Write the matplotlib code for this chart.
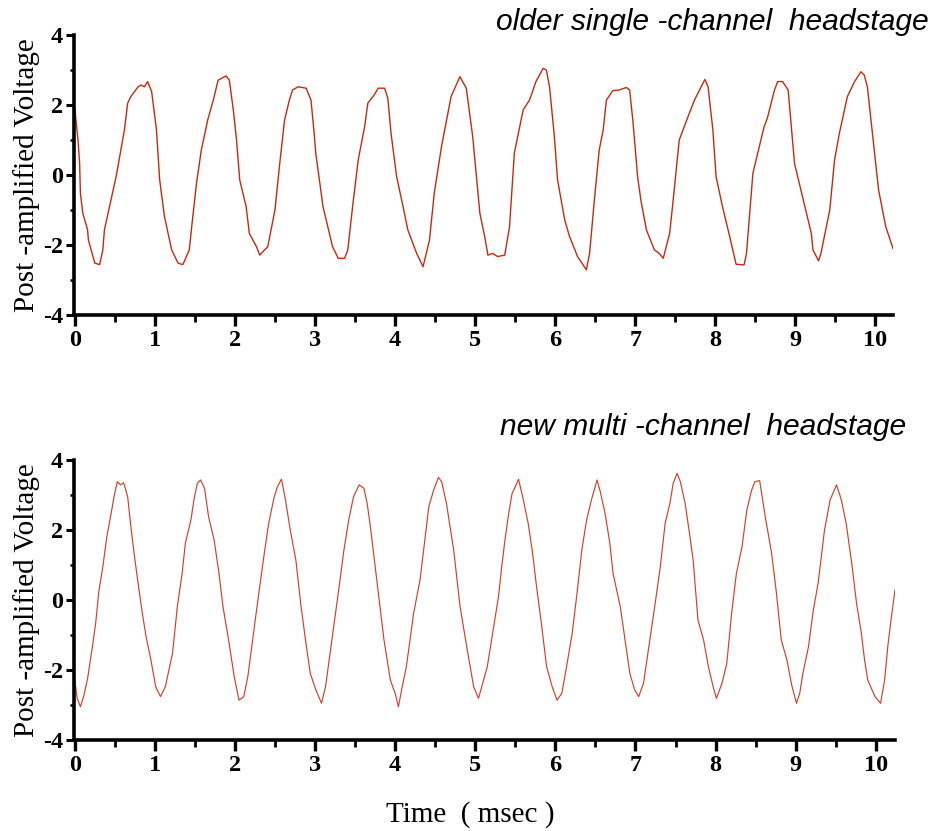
import matplotlib
matplotlib.use("Agg")
import matplotlib.pyplot as plt
from matplotlib.ticker import MultipleLocator

plt.rcParams["axes.unicode_minus"] = False

# ---- data ----
t_old = [0.00, 0.04, 0.06, 0.07, 0.10, 0.16, 0.17, 0.25, 0.31, 0.35, 0.37, 0.52, 0.62, 0.66, 0.70,
         0.79, 0.83, 0.87, 0.91, 0.96, 1.02, 1.06, 1.12, 1.21, 1.29, 1.35, 1.43, 1.46, 1.52, 1.58,
         1.66, 1.73, 1.79, 1.89, 1.93, 1.98, 2.02, 2.06, 2.14, 2.18, 2.27, 2.31, 2.37, 2.41, 2.50,
         2.56, 2.62, 2.68, 2.72, 2.79, 2.89, 2.95, 2.99, 3.01, 3.10, 3.22, 3.29, 3.37, 3.41, 3.47,
         3.54, 3.62, 3.66, 3.74, 3.79, 3.87, 3.91, 3.95, 4.02, 4.10, 4.16, 4.27, 4.35, 4.43, 4.49,
         4.58, 4.70, 4.81, 4.89, 4.97, 5.06, 5.12, 5.16, 5.22, 5.28, 5.37, 5.43, 5.49, 5.60, 5.68,
         5.76, 5.85, 5.89, 5.93, 5.99, 6.03, 6.12, 6.18, 6.28, 6.39, 6.43, 6.49, 6.55, 6.60, 6.64,
         6.72, 6.80, 6.89, 6.93, 6.97, 7.03, 7.07, 7.14, 7.24, 7.30, 7.35, 7.43, 7.47, 7.55, 7.66,
         7.74, 7.87, 7.91, 7.97, 8.01, 8.09, 8.18, 8.26, 8.36, 8.39, 8.47, 8.51, 8.61, 8.65, 8.74,
         8.78, 8.84, 8.91, 8.99, 9.07, 9.20, 9.22, 9.29, 9.32, 9.43, 9.49, 9.55, 9.65, 9.74, 9.82,
         9.86, 9.90, 9.99, 10.04, 10.13, 10.22]
v_old = [1.90, 1.00, 0.34, -0.52, -1.09, -1.57, -1.86, -2.52, -2.56, -2.14, -1.57, 0.00, 1.29, 2.05, 2.24,
         2.52, 2.57, 2.52, 2.67, 2.38, 1.29, -0.14, -1.19, -2.14, -2.52, -2.56, -2.14, -1.48, -0.24, 0.71,
         1.57, 2.14, 2.71, 2.83, 2.71, 1.86, 1.00, -0.14, -0.90, -1.67, -2.05, -2.29, -2.14, -2.05, -1.00,
         0.33, 1.57, 2.14, 2.43, 2.52, 2.48, 2.14, 1.19, 0.62, -0.90, -2.05, -2.38, -2.38, -2.14, -0.90,
         0.43, 1.38, 2.05, 2.29, 2.48, 2.48, 2.19, 1.19, -0.05, -0.90, -1.57, -2.24, -2.62, -1.86, -0.52,
         0.81, 2.24, 2.81, 2.48, 1.10, -1.10, -1.76, -2.29, -2.24, -2.33, -2.29, -1.48, 0.62, 1.86, 2.14,
         2.67, 3.05, 3.00, 2.52, 1.10, -0.14, -1.29, -1.76, -2.33, -2.71, -2.24, -0.71, 0.71, 1.29, 2.14,
         2.41, 2.43, 2.50, 2.43, 1.57, -0.05, -0.71, -1.57, -2.14, -2.24, -2.38, -1.67, -0.81, 1.00, 1.67,
         2.14, 2.73, 2.52, 1.29, -0.05, -0.90, -1.76, -2.55, -2.57, -2.24, 0.05, 0.43, 1.38, 1.62, 2.43,
         2.67, 2.67, 2.43, 0.33, -0.43, -1.67, -2.14, -2.45, -2.24, -1.00, 0.43, 1.19, 2.24, 2.67, 2.95,
         2.86, 2.52, 0.62, -0.43, -1.48, -2.10]

t_new = [0.00, 0.03, 0.07, 0.11, 0.16, 0.22, 0.26, 0.30, 0.35, 0.40, 0.45, 0.49, 0.53, 0.57, 0.61,
         0.66, 0.70, 0.74, 0.79, 0.84, 0.89, 0.95, 1.01, 1.07, 1.13, 1.22, 1.28, 1.34, 1.38, 1.45,
         1.49, 1.53, 1.57, 1.62, 1.67, 1.74, 1.80, 1.85, 1.92, 1.99, 2.05, 2.11, 2.16, 2.22, 2.28,
         2.36, 2.42, 2.49, 2.53, 2.58, 2.63, 2.69, 2.76, 2.82, 2.88, 2.94, 3.01, 3.08, 3.13, 3.21,
         3.30, 3.36, 3.42, 3.48, 3.55, 3.61, 3.65, 3.69, 3.77, 3.86, 3.94, 4.00, 4.04, 4.08, 4.14,
         4.23, 4.31, 4.35, 4.42, 4.48, 4.54, 4.58, 4.64, 4.73, 4.81, 4.90, 4.98, 5.04, 5.08, 5.15,
         5.23, 5.29, 5.33, 5.37, 5.42, 5.46, 5.50, 5.54, 5.60, 5.66, 5.71, 5.77, 5.83, 5.89, 5.96,
         6.02, 6.08, 6.14, 6.21, 6.27, 6.33, 6.39, 6.45, 6.52, 6.56, 6.62, 6.68, 6.72, 6.81, 6.87,
         6.93, 6.99, 7.04, 7.10, 7.18, 7.24, 7.31, 7.37, 7.43, 7.47, 7.52, 7.56, 7.62, 7.68, 7.72,
         7.78, 7.85, 7.91, 7.97, 8.01, 8.08, 8.14, 8.20, 8.26, 8.33, 8.39, 8.45, 8.49, 8.55, 8.62,
         8.70, 8.76, 8.82, 8.89, 8.95, 9.01, 9.05, 9.09, 9.16, 9.22, 9.28, 9.32, 9.36, 9.43, 9.51,
         9.57, 9.63, 9.70, 9.76, 9.82, 9.86, 9.90, 9.99, 10.06, 10.11, 10.15, 10.19, 10.24]
v_new = [-2.29, -2.81, -3.05, -2.76, -2.24, -1.33, -0.67, 0.24, 0.95, 1.81, 2.43, 2.95, 3.38, 3.29, 3.35,
         2.95, 2.10, 1.33, 0.48, -0.33, -1.05, -1.71, -2.48, -2.76, -2.48, -1.52, -0.19, 0.76, 1.62, 2.29,
         2.90, 3.33, 3.43, 3.19, 2.38, 1.71, 0.76, -0.19, -1.14, -2.19, -2.86, -2.76, -2.19, -1.14, -0.10,
         1.24, 2.19, 2.95, 3.24, 3.45, 2.86, 2.00, 1.14, -0.10, -1.14, -2.10, -2.57, -2.95, -2.48, -1.14,
         0.38, 1.43, 2.29, 2.95, 3.29, 3.19, 2.76, 2.10, 0.57, -1.14, -2.29, -2.67, -3.05, -2.57, -1.90,
         -0.38, 0.57, 1.33, 2.67, 3.14, 3.50, 3.38, 2.76, 1.43, -0.19, -1.43, -2.48, -2.81, -2.48, -1.90,
         -0.76, 0.10, 0.95, 1.71, 2.52, 3.05, 3.24, 3.45, 2.86, 2.19, 1.43, 0.29, -0.76, -1.90, -2.48,
         -2.86, -2.67, -1.90, -0.95, 0.19, 1.43, 2.29, 2.86, 3.43, 3.10, 2.48, 1.62, 0.76, -0.19, -1.14,
         -2.10, -2.57, -2.76, -2.38, -1.14, -0.19, 0.95, 2.19, 2.76, 3.33, 3.62, 3.38, 2.76, 1.81, 1.14,
         -0.57, -1.14, -1.90, -2.48, -2.81, -2.38, -1.81, -0.38, 0.76, 1.52, 2.57, 3.14, 3.38, 3.41, 2.38,
         1.33, 0.19, -1.14, -1.71, -2.43, -2.95, -2.67, -2.10, -1.33, -0.29, 0.48, 1.24, 2.00, 2.86, 3.29,
         2.86, 2.19, 1.05, -0.10, -0.95, -1.71, -2.29, -2.76, -2.95, -2.29, -1.33, -0.57, 0.29]

titles = ["older single -channel  headstage", "new multi -channel  headstage"]
ylabel = "Post -amplified Voltage"
xlabel = "Time  ( msec )"
x_ticks = list(range(0, 11))
y_ticks = [-4, -2, 0, 2, 4]

W, H = 937, 831
fig = plt.figure(figsize=(W / 100, H / 100), dpi=100)

serif = ["Liberation Serif", "DejaVu Serif"]
sans = ["Liberation Sans", "DejaVu Sans"]

def px_axes(left, top, right, bottom):
    return fig.add_axes([left / W, 1 - bottom / H, (right - left) / W, (bottom - top) / H])

axes = [px_axes(74, 35, 893, 315), px_axes(74, 460, 895, 740)]
series = [(t_old, v_old, "#c42a12", 1.0), (t_new, v_new, "#d0412c", 0.85)]
xmax = [10.22, 10.24]
title_pos = [(929, 22), (906, 427)]

for i, ax in enumerate(axes):
    t, v, c, lw = series[i]
    ax.plot(t, v, color=c, lw=lw)
    ax.set_xlim(-0.01, xmax[i])
    ax.set_ylim(-4, 4)
    for s in ["top", "right"]:
        ax.spines[s].set_visible(False)
    for s in ["left", "bottom"]:
        ax.spines[s].set_linewidth(2.6)
        ax.spines[s].set_capstyle("projecting")
    ax.set_xticks(x_ticks)
    ax.set_yticks(y_ticks)
    ax.xaxis.set_minor_locator(MultipleLocator(0.5))
    ax.yaxis.set_minor_locator(MultipleLocator(1))
    ax.tick_params(axis="x", which="major", direction="out", length=8, width=2.4, pad=3)
    ax.tick_params(axis="x", which="minor", direction="out", length=5, width=2.0)
    ax.tick_params(axis="y", which="major", direction="out", length=6, width=2.2, pad=2)
    ax.tick_params(axis="y", which="minor", direction="out", length=3, width=1.8)
    for lab in ax.get_xticklabels() + ax.get_yticklabels():
        lab.set_fontfamily(serif)
        lab.set_fontweight("bold")
        lab.set_fontsize(17.5)
    ax.set_ylabel(ylabel, fontfamily=serif, fontsize=21, labelpad=2)
    tx, ty = title_pos[i]
    fig.text(tx / W, 1 - ty / H, titles[i], ha="right", va="center",
             fontfamily=sans, fontstyle="italic", fontsize=21.6)

fig.text(470 / W, 1 - 815 / H, xlabel, ha="center", va="center", fontfamily=serif, fontsize=21)

fig.savefig("out.png", dpi=100)
